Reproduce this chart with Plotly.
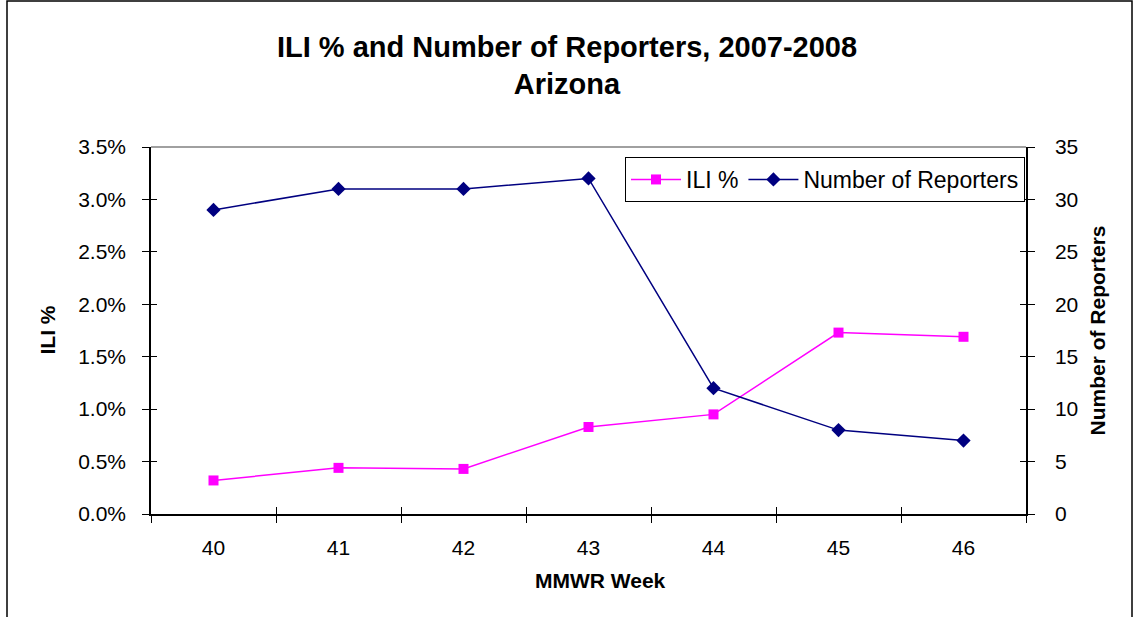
import plotly.graph_objects as go

weeks = ["40", "41", "42", "43", "44", "45", "46"]
ili_pct = [0.0032, 0.0044, 0.0043, 0.0083, 0.0095, 0.0173, 0.0169]
reporters = [29, 31, 31, 32, 12, 8, 7]
ili_ticks = [0, 0.005, 0.01, 0.015, 0.02, 0.025, 0.03, 0.035]
rep_ticks = [0, 5, 10, 15, 20, 25, 30, 35]

FONT = "Liberation Sans, Arial, sans-serif"
W, H = 1134, 617
L, R, T, B = 151, 108, 147, 103
PW, PH = W - L - R, H - T - B

def px_x(p):
    return (p - L) / PW

def px_y(p):
    return (H - B - p) / PH

fig = go.Figure()
fig.add_trace(go.Scatter(
    x=weeks, y=ili_pct, name="ILI %", mode="lines+markers",
    line=dict(color="#FF00FF", width=1.5),
    marker=dict(symbol="square", size=10, color="#FF00FF"),
    xaxis="x", yaxis="y"))
fig.add_trace(go.Scatter(
    x=weeks, y=reporters, name="Number of Reporters", mode="lines+markers",
    line=dict(color="#000080", width=1.5),
    marker=dict(symbol="diamond", size=11, color="#000080"),
    xaxis="x", yaxis="y2"))
# empty helper traces so the inner-tick overlay axes are drawn
fig.add_trace(go.Scatter(x=[], y=[], xaxis="x3", yaxis="y3", showlegend=False, hoverinfo="skip"))
fig.add_trace(go.Scatter(x=[], y=[], xaxis="x3", yaxis="y4", showlegend=False, hoverinfo="skip"))

tickfont = dict(family=FONT, size=21, color="black")
bold = dict(family=FONT, size=21, color="black", weight="bold")

fig.update_layout(
    width=W, height=H,
    margin=dict(l=L, r=R, t=T, b=B, pad=0),
    paper_bgcolor="white", plot_bgcolor="white",
    showlegend=True,
    title=dict(text="ILI % and Number of Reporters, 2007-2008<br>Arizona",
               x=0.5, xref="container", y=1 - 56.5 / H, yref="container",
               xanchor="center", yanchor="middle",
               font=dict(family=FONT, size=29, color="black", weight="bold")),
    xaxis=dict(type="category", categoryorder="array", categoryarray=weeks,
               range=[-0.5, 6.5], tickson="boundaries",
               showline=True, linecolor="black", linewidth=1.5,
               ticks="outside", ticklen=7, tickcolor="black", tickwidth=1,
               tickfont=tickfont, showgrid=False, zeroline=False,
               ticklabelstandoff=14, fixedrange=True),
    yaxis=dict(range=[0, 0.035], tickvals=ili_ticks, tickformat=".1%",
               showline=True, linecolor="black", linewidth=1.5,
               ticks="outside", ticklen=7, tickcolor="black", tickwidth=1,
               tickfont=tickfont, showgrid=False, zeroline=False,
               ticklabelstandoff=12),
    yaxis2=dict(range=[0, 35], tickvals=rep_ticks, overlaying="y", side="right",
                anchor="x",
                showline=True, linecolor="black", linewidth=1.5,
                ticks="outside", ticklen=7, tickcolor="black", tickwidth=1,
                tickfont=tickfont, showgrid=False, zeroline=False,
                ticklabelstandoff=16),
    xaxis3=dict(overlaying="x", anchor="y3", range=[-0.5, 6.5],
                tickvals=[-0.5, 0.5, 1.5, 2.5, 3.5, 4.5, 5.5, 6.5],
                ticks="inside", ticklen=7, tickcolor="black", tickwidth=1,
                showticklabels=False, showline=False, showgrid=False, zeroline=False),
    yaxis3=dict(overlaying="y", anchor="x3", range=[0, 0.035], tickvals=ili_ticks,
                ticks="inside", ticklen=6, tickcolor="black", tickwidth=1,
                showticklabels=False, showline=False, showgrid=False, zeroline=False),
    yaxis4=dict(overlaying="y", anchor="x3", side="right", range=[0, 35], tickvals=rep_ticks,
                ticks="inside", ticklen=6, tickcolor="black", tickwidth=1,
                showticklabels=False, showline=False, showgrid=False, zeroline=False),
    legend=dict(orientation="h", x=px_x(1025), xanchor="right", y=px_y(157), yanchor="top",
                bgcolor="white", bordercolor="black", borderwidth=1,
                font=dict(family=FONT, size=23, color="black"),
                itemwidth=50, traceorder="normal"),
    shapes=[
        dict(type="line", xref="paper", yref="paper", x0=0, x1=1, y0=1, y1=1,
             line=dict(color="#808080", width=1.5)),
        dict(type="rect", xref="paper", yref="paper",
             x0=px_x(7), x1=px_x(1132), y0=px_y(630), y1=px_y(1),
             line=dict(color="black", width=1.5), fillcolor="rgba(0,0,0,0)"),
    ],
    annotations=[
        dict(text="ILI %", xref="paper", yref="paper", x=px_x(47), y=0.5,
             textangle=-90, showarrow=False, font=bold,
             xanchor="center", yanchor="middle"),
        dict(text="Number of Reporters", xref="paper", yref="paper", x=px_x(1097), y=0.5,
             textangle=-90, showarrow=False, font=bold,
             xanchor="center", yanchor="middle"),
        dict(text="MMWR Week", xref="paper", yref="paper", x=px_x(600), y=px_y(580),
             showarrow=False, font=bold, xanchor="center", yanchor="middle"),
    ],
)

fig.write_html("out.html", config={"displayModeBar": False},
               post_script="document.body.style.margin='0px';")
